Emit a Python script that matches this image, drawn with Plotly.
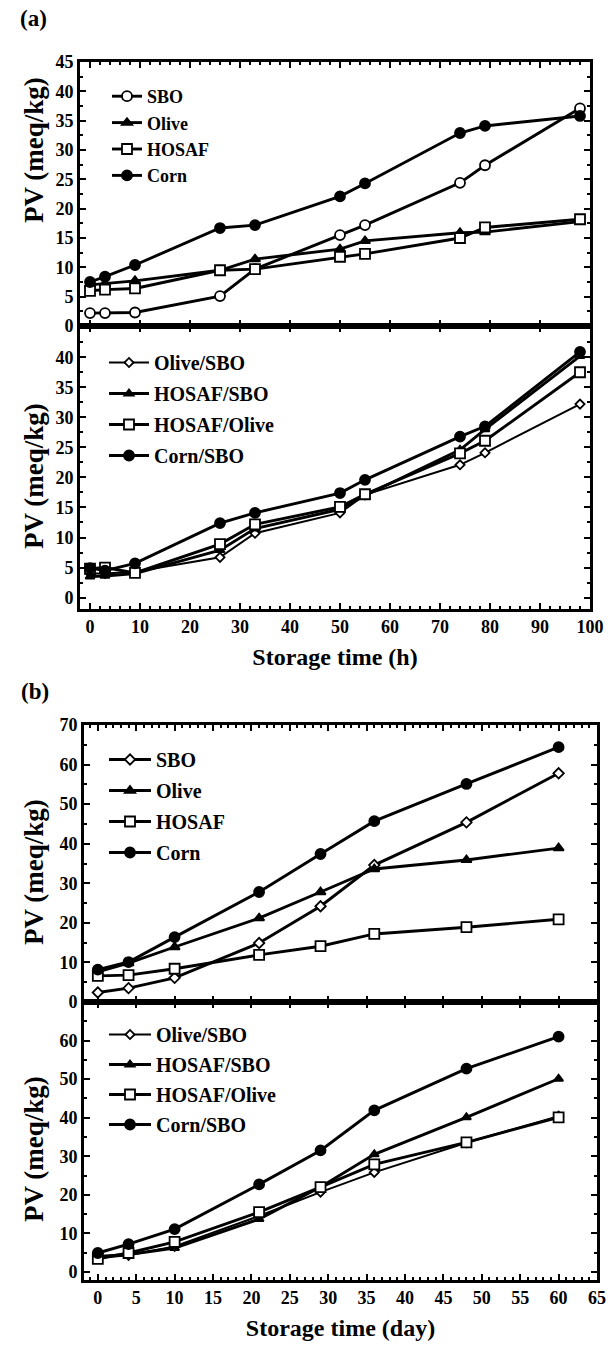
import plotly.graph_objects as go

W, H = 608, 1345

# ---------------- data ----------------
a_time = [0, 3, 9, 26, 33, 50, 55, 74, 79, 98]
a_sbo = [2.2, 2.2, 2.3, 5.1, 9.7, 15.5, 17.2, 24.4, 27.4, 37.1]
a_olive = [7.0, 7.2, 7.7, 9.5, 11.4, 13.1, 14.5, 15.9, 16.0, 17.8]
a_hosaf = [6.0, 6.2, 6.4, 9.5, 9.7, 11.8, 12.3, 15.0, 16.8, 18.2]
a_corn = [7.5, 8.4, 10.4, 16.7, 17.2, 22.1, 24.3, 32.9, 34.1, 35.8]

a_olive_sbo = [4.0, 4.0, 4.3, 6.7, 10.7, 14.1, 17.1, 22.1, 24.1, 32.2]
a_hosaf_sbo = [3.5, 3.6, 4.0, 7.9, 11.5, 14.7, 17.0, 24.6, 28.0, 40.2]
a_hosaf_olive = [4.8, 5.0, 4.1, 8.9, 12.2, 15.1, 17.2, 24.0, 26.1, 37.5]
a_corn_sbo = [4.9, 4.5, 5.7, 12.4, 14.1, 17.4, 19.6, 26.8, 28.5, 40.9]

b_time = [0, 4, 10, 21, 29, 36, 48, 60]
b_sbo = [2.4, 3.5, 6.1, 14.9, 24.2, 34.6, 45.4, 57.8]
b_olive = [7.6, 9.8, 13.9, 21.2, 27.8, 33.6, 35.9, 38.9]
b_hosaf = [6.6, 6.8, 8.4, 11.9, 14.1, 17.2, 18.9, 20.9]
b_corn = [8.2, 10.1, 16.4, 27.8, 37.4, 45.7, 55.1, 64.4]

b_olive_sbo = [3.6, 4.3, 6.6, 14.5, 20.7, 25.8, 33.5, 40.4]
b_hosaf_sbo = [4.0, 4.5, 6.2, 13.7, 22.0, 30.5, 40.1, 50.1]
b_hosaf_olive = [3.4, 4.9, 7.8, 15.5, 22.0, 27.9, 33.6, 40.1]
b_corn_sbo = [4.9, 7.2, 11.1, 22.7, 31.5, 41.9, 52.7, 61.0]

a_yticks_top = [0, 5, 10, 15, 20, 25, 30, 35, 40, 45]
a_yticks_bot = [0, 5, 10, 15, 20, 25, 30, 35, 40]
b_yticks_top = [0, 10, 20, 30, 40, 50, 60, 70]
b_yticks_bot = [0, 10, 20, 30, 40, 50, 60]
a_xticks = [0, 10, 20, 30, 40, 50, 60, 70, 80, 90, 100]
b_xticks = [0, 5, 10, 15, 20, 25, 30, 35, 40, 45, 50, 55, 60, 65]


def xd(p0, p1):
    return [p0 / W, p1 / W]


def yd(ptop, pbot):
    return [1 - pbot / H, 1 - ptop / H]


SERIF = "Liberation Serif"
BLACK = "black"

fig = go.Figure()


def add(x, y, name, symbol, fill, size, xa, ya, legend, lw=2.9):
    fig.add_trace(go.Scatter(
        x=x, y=y, name=name, mode="lines+markers",
        line=dict(color=BLACK, width=lw),
        marker=dict(symbol=symbol, size=size, color=fill,
                    line=dict(color=BLACK, width=1.8)),
        xaxis=xa, yaxis=ya, legend=legend, legendgroup=name + legend,
    ))


# panel (a) top
add(a_time, a_sbo, "SBO", "circle", "white", 10, "x", "y", "legend")
add(a_time, a_olive, "Olive", "triangle-up", BLACK, 9, "x", "y", "legend")
add(a_time, a_hosaf, "HOSAF", "square", "white", 10, "x", "y", "legend")
add(a_time, a_corn, "Corn", "circle", BLACK, 10, "x", "y", "legend")
# panel (a) bottom
add(a_time, a_olive_sbo, "Olive/SBO", "diamond", "white", 7, "x2", "y2", "legend2", lw=2.0)
add(a_time, a_hosaf_sbo, "HOSAF/SBO", "triangle-up", BLACK, 8, "x2", "y2", "legend2")
add(a_time, a_hosaf_olive, "HOSAF/Olive", "square", "white", 10, "x2", "y2", "legend2")
add(a_time, a_corn_sbo, "Corn/SBO", "circle", BLACK, 10, "x2", "y2", "legend2")
# panel (b) top
add(b_time, b_sbo, "SBO", "diamond", "white", 8, "x3", "y3", "legend3")
add(b_time, b_olive, "Olive", "triangle-up", BLACK, 9, "x3", "y3", "legend3")
add(b_time, b_hosaf, "HOSAF", "square", "white", 10, "x3", "y3", "legend3")
add(b_time, b_corn, "Corn", "circle", BLACK, 10, "x3", "y3", "legend3")
# panel (b) bottom
add(b_time, b_olive_sbo, "Olive/SBO", "diamond", "white", 7, "x4", "y4", "legend4", lw=2.0)
add(b_time, b_hosaf_sbo, "HOSAF/SBO", "triangle-up", BLACK, 8, "x4", "y4", "legend4")
add(b_time, b_hosaf_olive, "HOSAF/Olive", "square", "white", 10, "x4", "y4", "legend4")
add(b_time, b_corn_sbo, "Corn/SBO", "circle", BLACK, 10, "x4", "y4", "legend4")

tickfont = dict(family=SERIF, size=18, color=BLACK, weight="bold")
ytitlefont = dict(family=SERIF, size=27, color=BLACK, weight="bold")
xtitlefont = dict(family=SERIF, size=24, color=BLACK, weight="bold")

axis_common = dict(
    showline=True, linecolor=BLACK, linewidth=2.6, mirror="ticks",
    ticks="inside", ticklen=6, tickwidth=2, tickcolor=BLACK,
    showgrid=False, zeroline=False, tickfont=tickfont,
    automargin=False,
    minor=dict(ticks="inside", ticklen=3, tickwidth=1.5, tickcolor=BLACK, showgrid=False),
)

a_xdom = xd(80, 590)
b_xdom = xd(84, 597)
a_xrange = [-2, 100]
b_xrange = [-1.8, 65]

fig.update_layout(
    width=W, height=H,
    margin=dict(l=0, r=0, t=0, b=0),
    paper_bgcolor="white", plot_bgcolor="white",
    showlegend=True,
    xaxis=dict(domain=a_xdom, range=a_xrange, anchor="y", tickvals=a_xticks,
               showticklabels=False, minor_dtick=2, **axis_common),
    yaxis=dict(domain=yd(62, 326), range=[0, 45], anchor="x", tickvals=a_yticks_top,
               minor_dtick=2.5, **axis_common),
    xaxis2=dict(domain=a_xdom, range=a_xrange, anchor="y2", tickvals=a_xticks,
                minor_dtick=2,
                title=dict(text="Storage time (h)", font=xtitlefont, standoff=12), **axis_common),
    yaxis2=dict(domain=yd(326, 609), range=[-1.9, 45.2], anchor="x2", tickvals=a_yticks_bot,
                minor_dtick=2.5, **axis_common),
    xaxis3=dict(domain=b_xdom, range=b_xrange, anchor="y3", tickvals=b_xticks,
                showticklabels=False, minor_dtick=1, **axis_common),
    yaxis3=dict(domain=yd(725, 1002), range=[0, 70], anchor="x3", tickvals=b_yticks_top,
                minor_dtick=5, **axis_common),
    xaxis4=dict(domain=b_xdom, range=b_xrange, anchor="y4", tickvals=b_xticks,
                minor_dtick=1,
                title=dict(text="Storage time (day)", font=xtitlefont, standoff=12), **axis_common),
    yaxis4=dict(domain=yd(1002, 1280), range=[-2.1, 70], anchor="x4", tickvals=b_yticks_bot,
                minor_dtick=5, **axis_common),
)


def leg(px, py, gap, size=20, iw=30):
    return dict(x=px / W, y=1 - py / H, xanchor="left", yanchor="top",
                bgcolor="rgba(0,0,0,0)", borderwidth=0,
                font=dict(family=SERIF, size=size, color=BLACK, weight="bold"),
                traceorder="grouped", tracegroupgap=gap, itemwidth=iw)


fig.update_layout(
    legend=leg(107, 78, 0, 18, 30),
    legend2=leg(104, 343, 2, 20, 40),
    legend3=leg(104, 740, 2, 20, 42),
    legend4=leg(104, 1015, 1, 20, 42),
)

# y-axis titles (centre positions)
for cy in (150, 476, 872, 1149):
    fig.add_annotation(text="PV (meq/kg)", x=34 / W, y=1 - cy / H,
                       xref="paper", yref="paper", xanchor="center", yanchor="middle",
                       textangle=-90, showarrow=False, font=ytitlefont)

fig.add_annotation(text="(a)", x=18 / W, y=1 - 18 / H, xref="paper", yref="paper",
                   xanchor="left", yanchor="middle", showarrow=False,
                   font=dict(family=SERIF, size=23, color=BLACK, weight="bold"))
fig.add_annotation(text="(b)", x=19 / W, y=1 - 691 / H, xref="paper", yref="paper",
                   xanchor="left", yanchor="middle", showarrow=False,
                   font=dict(family=SERIF, size=23, color=BLACK, weight="bold"))

fig.write_html(
    "out.html",
    config={"displayModeBar": False},
    post_script="document.body.style.margin='0px';document.body.style.overflow='hidden';",
)
